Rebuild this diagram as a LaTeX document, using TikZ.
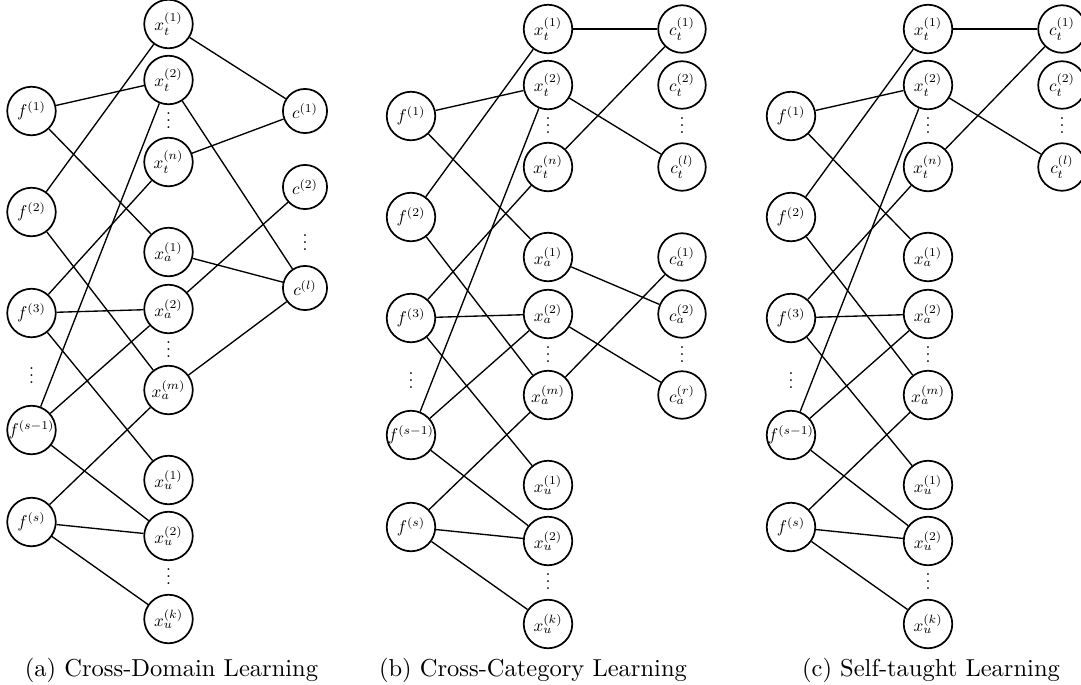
\documentclass[tikz,border=0pt]{standalone}
\usepackage{graphicx}
\newcommand\lbl[1]{\makebox[0pt]{\scalebox{0.7}{$#1$}}}
\newcommand\vd{\scalebox{0.72}{\vbox{\baselineskip4pt\lineskiplimit0pt\hbox{.}\hbox{.}\hbox{.}}}}
\newcommand\leftpart[1]{%
  \node[nd] (#1f1) at (0,111) {\lbl{f^{(1)}}};
  \node[nd] (#1f2) at (0,212) {\lbl{f^{(2)}}};
  \node[nd] (#1f3) at (0,313) {\lbl{f^{(3)}}};
  \node[dts] (#1fd) at (0,376) {\vd};
  \node[nd] (#1fs1) at (0,430) {\lbl{f^{(s-1)}}};
  \node[nd] (#1fs) at (0,522) {\lbl{f^{(s)}}};
  \node[nd] (#1t1) at (137,24) {\lbl{x_t^{(1)}}};
  \node[nd] (#1t2) at (137,80) {\lbl{x_t^{(2)}}};
  \node[dts] (#1td) at (137,121) {\vd};
  \node[nd] (#1tn) at (137,162) {\lbl{x_t^{(n)}}};
  \node[nd] (#1a1) at (137,252) {\lbl{x_a^{(1)}}};
  \node[nd] (#1a2) at (137,309) {\lbl{x_a^{(2)}}};
  \node[dts] (#1ad) at (137,350) {\vd};
  \node[nd] (#1am) at (137,390) {\lbl{x_a^{(m)}}};
  \node[nd] (#1u1) at (137,480) {\lbl{x_u^{(1)}}};
  \node[nd] (#1u2) at (137,536) {\lbl{x_u^{(2)}}};
  \node[dts] (#1ud) at (137,577) {\vd};
  \node[nd] (#1uk) at (137,619) {\lbl{x_u^{(k)}}};
  \draw[edge] (#1f1) -- (#1t2);
  \draw[edge] (#1f1) -- (#1a1);
  \draw[edge] (#1f2) -- (#1t1);
  \draw[edge] (#1f2) -- (#1am);
  \draw[edge] (#1f3) -- (#1tn);
  \draw[edge] (#1f3) -- (#1a2);
  \draw[edge] (#1f3) -- (#1u1);
  \draw[edge] (#1fs1) -- (#1t2);
  \draw[edge] (#1fs1) -- (#1a2);
  \draw[edge] (#1fs1) -- (#1u2);
  \draw[edge] (#1fs) -- (#1am);
  \draw[edge] (#1fs) -- (#1u2);
  \draw[edge] (#1fs) -- (#1uk);
}
\begin{document}
\begin{tikzpicture}[x=0.408pt,y=-0.408pt,
  nd/.style={circle,draw,line width=0.7pt,minimum size=19.8pt,inner sep=0pt},
  ndc/.style={nd,minimum size=18pt},
  ndct/.style={nd,minimum size=19.4pt},
  dts/.style={inner sep=0pt},
  edge/.style={line width=0.55pt},
  captxt/.style={anchor=base,font=\fontsize{10}{12}\selectfont}]
\useasboundingbox (0,0) rectangle (1081,685);
\clip (0,0) rectangle (1081,685);
% ---------- panel (a)
\begin{scope}[shift={(31.5,0)}]
  \leftpart{A}
  \node[ndc] (Ac1) at (273.5,111) {\lbl{c^{(1)}}};
  \node[ndc] (Ac2) at (273.5,187) {\lbl{c^{(2)}}};
  \node[dts] (Acd) at (273.5,243) {\vd};
  \node[ndc] (Acl) at (273.5,288) {\lbl{c^{(l)}}};
  \draw[edge] (At1) -- (Ac1);
  \draw[edge] (At2) -- (Acl);
  \draw[edge] (Atn) -- (Ac1);
  \draw[edge] (Aa1) -- (Acl);
  \draw[edge] (Aa2) -- (Ac2);
  \draw[edge] (Aam) -- (Acl);
\end{scope}
% ---------- panel (b)
\begin{scope}[shift={(411,5)}]
  \leftpart{B}
  \node[ndct] (Bct1) at (271,24) {\lbl{c_t^{(1)}}};
  \node[ndct] (Bct2) at (271,80) {\lbl{c_t^{(2)}}};
  \node[dts] (Bctd) at (271,121) {\vd};
  \node[ndct] (Bctl) at (271,162) {\lbl{c_t^{(l)}}};
  \node[ndct] (Bca1) at (271,252) {\lbl{c_a^{(1)}}};
  \node[ndct] (Bca2) at (271,309) {\lbl{c_a^{(2)}}};
  \node[dts] (Bcad) at (271,350) {\vd};
  \node[ndct] (Bcar) at (271,390) {\lbl{c_a^{(r)}}};
  \draw[edge] (Bt1) -- (Bct1);
  \draw[edge] (Bt2) -- (Bctl);
  \draw[edge] (Btn) -- (Bct1);
  \draw[edge] (Ba1) -- (Bca2);
  \draw[edge] (Ba2) -- (Bcar);
  \draw[edge] (Bam) -- (Bca1);
\end{scope}
% ---------- panel (c)
\begin{scope}[shift={(791,5)}]
  \leftpart{C}
  \node[ndct] (Cct1) at (271,24) {\lbl{c_t^{(1)}}};
  \node[ndct] (Cct2) at (271,80) {\lbl{c_t^{(2)}}};
  \node[dts] (Cctd) at (271,121) {\vd};
  \node[ndct] (Cctl) at (271,162) {\lbl{c_t^{(l)}}};
  \draw[edge] (Ct1) -- (Cct1);
  \draw[edge] (Ct2) -- (Cctl);
  \draw[edge] (Ctn) -- (Cct1);
\end{scope}
% ---------- captions
\node[captxt] (capa) at (171.5,676) {(a) Cross-Domain Learning};
\node[captxt] (capb) at (533,676) {(b) Cross-Category Learning};
\node[captxt] (capc) at (931,676) {(c) Self-taught Learning};
\end{tikzpicture}
\end{document}
